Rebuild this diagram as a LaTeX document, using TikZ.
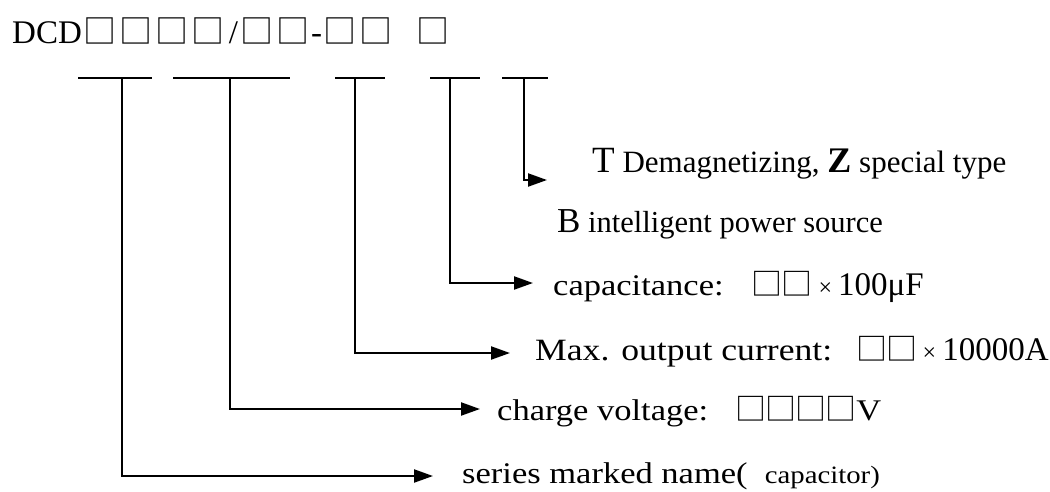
\documentclass[tikz,border=0pt]{standalone}
\usepackage{fontspec}
\setmainfont{Liberation Serif}
\newfontfamily\labfont[FakeStretch=1.15]{Liberation Serif}
\newfontfamily\cjk{Noto Sans CJK SC}
\usetikzlibrary{arrows.meta}

% empty code field in the type code and in the labels
\newcommand{\codebox}{\makebox[36pt]{\cjk\fontsize{33}{33}\selectfont □}}
\newcommand{\fieldbox}{\makebox[30pt]{\cjk\fontsize{31}{31}\selectfont □}}
\newcommand{\smalltimes}{{\rmfamily\fontsize{24}{28}\selectfont ×}}

\begin{document}
\begin{tikzpicture}[x=1pt, y=-1pt,
    bar/.style={line width=2.2pt},
    lead/.style={line width=2.2pt, -{Triangle[length=19pt, width=13pt]}},
    codetext/.style={anchor=base west, inner sep=0pt,
                     font=\fontsize{33}{40}\selectfont},
    desc/.style={anchor=base west, inner sep=0pt,
                 font=\labfont\fontsize{30}{36}\selectfont},
    note/.style={anchor=base west, inner sep=0pt}
  ]
    \useasboundingbox (0,0) rectangle (1050,491);
    % Type code
    \node[codetext] (code) at (12,43)
      {DCD\codebox\codebox\codebox\codebox\hspace{3pt}/\hspace{1pt}\codebox\codebox-\codebox\codebox\hspace{20.5pt}\codebox};
    % Underlines below the fields
    \coordinate (serL) at (78,78);   \coordinate (serR) at (152,78);
    \coordinate (voltL) at (173,78); \coordinate (voltR) at (290,78);
    \coordinate (curL) at (335,78);  \coordinate (curR) at (385,78);
    \coordinate (capL) at (430,78);  \coordinate (capR) at (480,78);
    \coordinate (typeL) at (502,78); \coordinate (typeR) at (548,78);
    % Where the leads leave the underlines
    \coordinate (serBar) at (122,78);
    \coordinate (voltBar) at (230,78);
    \coordinate (curBar) at (355,78);
    \coordinate (capBar) at (450,78);
    \coordinate (typeBar) at (524,78);
    % Arrow ends
    \coordinate (typeTip) at (547,180);
    \coordinate (capTip) at (533,283);
    \coordinate (curTip) at (510,353);
    \coordinate (voltTip) at (480,409);
    \coordinate (serTip) at (433,476);

    % Type letters
    \node[note] (demag) at (592,172)
      {\fontsize{37}{40}\selectfont T\fontsize{31}{36}\selectfont\ Demagnetizing, {\bfseries\fontsize{36}{40}\selectfont Z} special type};
    \node[note] (power) at (557,232)
      {\fontsize{35}{40}\selectfont B\fontsize{30.5}{36}\selectfont\ intelligent power source};
    % Capacitance
    \node[desc] (cap) at (553,295)
      {capacitance:\hspace{28pt}\fieldbox\fieldbox\hspace{7pt}\smalltimes\hspace{6pt}{\rmfamily\fontsize{33}{40}\selectfont 100μF}};
    % Current
    \node[desc, font=\labfont\fontsize{31}{36}\selectfont] (cur) at (535,360)
      {Max. output current:\hspace{24.5pt}\fieldbox\fieldbox\hspace{6pt}\smalltimes\hspace{6pt}{\rmfamily\fontsize{33}{40}\selectfont 10000A}};
    % Voltage
    \node[desc] (volt) at (497,420)
      {charge voltage:\hspace{28pt}\fieldbox\fieldbox\fieldbox\fieldbox V};
    % Series name
    \node[desc] (ser) at (462,483)
      {series marked name(\ \ {\fontsize{25}{30}\selectfont capacitor)}};

    % Underlines
    \draw[bar] (serL) -- (serR);
    \draw[bar] (voltL) -- (voltR);
    \draw[bar] (curL) -- (curR);
    \draw[bar] (capL) -- (capR);
    \draw[bar] (typeL) -- (typeR);
    % Leads
    \draw[lead] (typeBar) |- (typeTip);
    \draw[lead] (capBar) |- (capTip);
    \draw[lead] (curBar) |- (curTip);
    \draw[lead] (voltBar) |- (voltTip);
    \draw[lead] (serBar) |- (serTip);
\end{tikzpicture}
\end{document}
